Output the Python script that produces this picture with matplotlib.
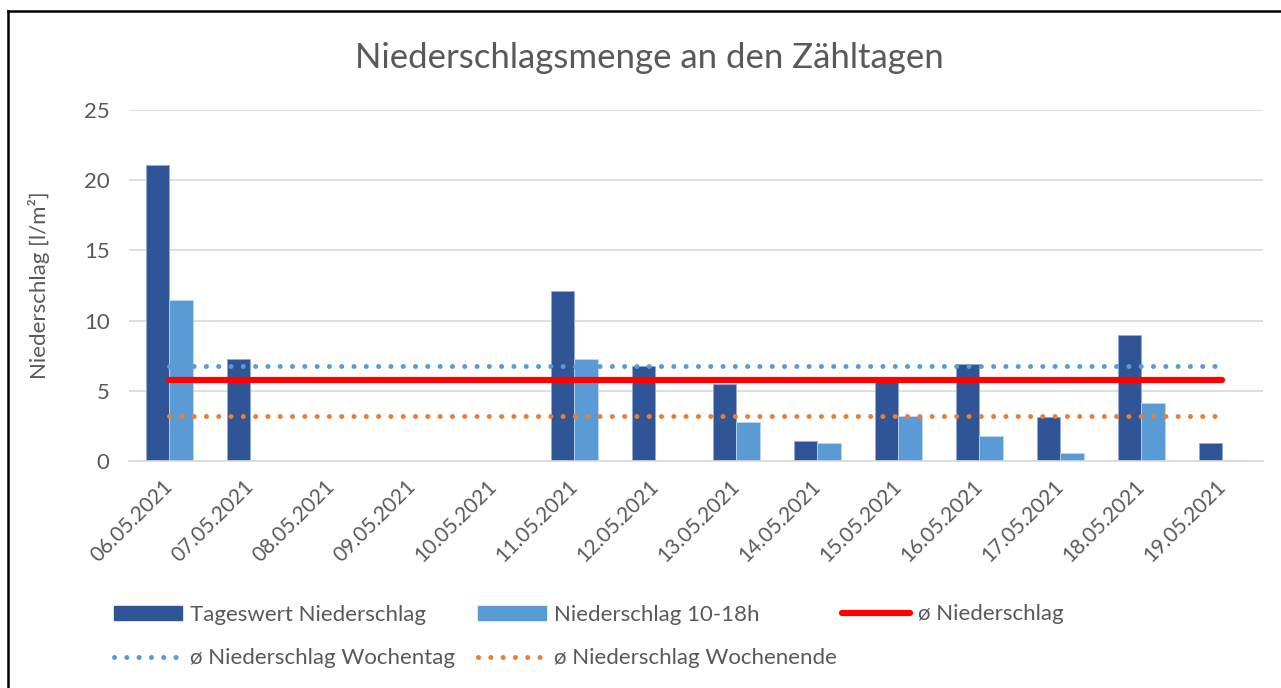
import matplotlib
matplotlib.use('Agg')
import matplotlib.pyplot as plt
import numpy as np
from matplotlib.lines import Line2D

plt.rcParams['font.family'] = ['Lato', 'DejaVu Sans']

dates = ['06.05.2021', '07.05.2021', '08.05.2021', '09.05.2021', '10.05.2021',
         '11.05.2021', '12.05.2021', '13.05.2021', '14.05.2021', '15.05.2021',
         '16.05.2021', '17.05.2021', '18.05.2021', '19.05.2021']
tageswert = [21.1, 7.3, 0, 0, 0, 12.1, 6.8, 5.5, 1.4, 6.0, 6.9, 3.1, 9.0, 1.3]
tag_10_18 = [11.5, 0, 0, 0, 0, 7.3, 0, 2.8, 1.3, 3.2, 1.8, 0.6, 4.1, 0.1]
avg_all = 5.8
avg_wochentag = 6.8
avg_wochenende = 3.2

dark = '#2F5597'
light = '#5B9BD5'
red = '#FF0000'
orange = '#ED7D31'
txt = '#595959'

fig = plt.figure(figsize=(12.81, 6.88), dpi=100)
ax = fig.add_axes([0.1007, 0.33, 0.8852, 0.51])

x = np.arange(len(dates))
w = 0.285
ax.bar(x - w / 2, tageswert, w, color=dark, edgecolor='#8FAADC', linewidth=0.6, zorder=2)
ax.bar(x + w / 2, tag_10_18, w, color=light, edgecolor='#BDD7EE', linewidth=0.6, zorder=2)

xs = [x[0], x[-1]]
dot = (0, (0.01, 2.45))
ax.plot(xs, [avg_wochentag] * 2, color=light, lw=3.6, ls=dot,
        dash_capstyle='round', zorder=3)
ax.plot(xs, [avg_all] * 2, color=red, lw=4.5, solid_capstyle='round', zorder=4)
ax.plot(xs, [avg_wochenende] * 2, color=orange, lw=3.6, ls=dot,
        dash_capstyle='round', zorder=3)

ax.set_xlim(-0.5, len(dates) - 0.5)
ax.set_ylim(0, 25)
ax.set_yticks([0, 5, 10, 15, 20, 25])
ax.grid(axis='y', color='#D9D9D9', lw=1.2, zorder=0)
ax.set_axisbelow(True)
for s in ['top', 'right', 'left']:
    ax.spines[s].set_visible(False)
ax.spines['bottom'].set_color('#D9D9D9')
ax.spines['bottom'].set_linewidth(1.2)
ax.tick_params(axis='both', length=0, colors=txt)
ax.tick_params(axis='y', pad=14, labelsize=16)
ax.set_xticks(x)
ax.set_xticklabels(dates, rotation=45, ha='right', rotation_mode='anchor', va='center')
ax.tick_params(axis='x', pad=16, labelsize=15)
ax.set_ylabel('Niederschlag [l/m²]', color=txt, fontsize=16, labelpad=24)

fig.text(0.507, 0.915, 'Niederschlagsmenge an den Zähltagen', ha='center', va='center',
         fontsize=25, color=txt)

# legend: three columns placed like the reference
leg_kw = dict(frameon=False, fontsize=16, labelcolor=txt, handlelength=3.05,
              handleheight=0.6, handletextpad=0.36, labelspacing=1.05,
              borderpad=0, borderaxespad=0, loc='center left')
col1 = fig.legend([plt.Rectangle((0, 0), 1, 1, color=dark),
                   Line2D([], [], color=light, lw=3.6, ls=dot, dash_capstyle='round')],
                  ['Tageswert Niederschlag', 'ø Niederschlag Wochentag'],
                  bbox_to_anchor=(114 / 1281, 1 - 636.5 / 688), **leg_kw)
col2 = fig.legend([plt.Rectangle((0, 0), 1, 1, color=light),
                   Line2D([], [], color=orange, lw=3.6, ls=dot, dash_capstyle='round')],
                  ['Niederschlag 10-18h', 'ø Niederschlag Wochenende'],
                  bbox_to_anchor=(478 / 1281, 1 - 636.5 / 688), **leg_kw)
col3 = fig.legend([Line2D([], [], color=red, lw=4.5, solid_capstyle='round')],
                  ['ø Niederschlag'],
                  bbox_to_anchor=(842 / 1281, 1 - 614 / 688), **leg_kw)

# chart border (cut at right and bottom in the reference)
fig.add_artist(Line2D([0.0063, 0.0063], [0, 0.984], color='black', lw=1.8,
                      transform=fig.transFigure))
fig.add_artist(Line2D([0.0063, 1], [0.984, 0.984], color='black', lw=1.8,
                      transform=fig.transFigure))

fig.savefig('out.png', dpi=100)
